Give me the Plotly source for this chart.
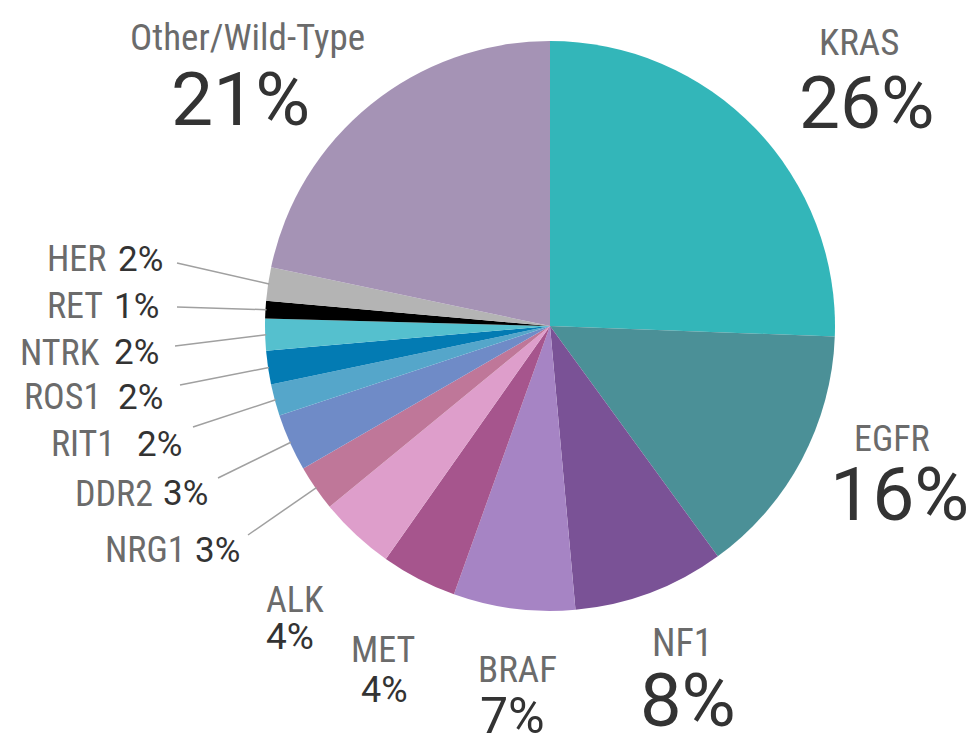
import math
import plotly.graph_objects as go

# ---- data (clockwise from 12 o'clock) ----
genes = ["KRAS", "EGFR", "NF1", "BRAF", "MET", "ALK", "NRG1", "DDR2",
         "RIT1", "ROS1", "NTRK", "RET", "HER", "Other/Wild-Type"]
shares = [25.6, 14.4, 8.6, 6.9, 4.3, 4.3, 2.6, 3.25, 1.8, 1.9, 1.8, 1.0, 1.9, 21.7]
pct_labels = ["26%", "16%", "8%", "7%", "4%", "4%", "3%", "3%",
              "2%", "2%", "2%", "1%", "2%", "21%"]
colors = ["#33B6B9", "#4B9097", "#7A5296", "#A684C4", "#A6558D", "#DE9ECB",
          "#BF7799", "#6F8BC7", "#55A6CA", "#037BB3", "#55C0CE", "#000000",
          "#B4B4B4", "#A593B5"]

W, H = 970, 737
CX, CY, R = 550, 326, 285

NAME_FONT = "Roboto Condensed, Liberation Sans Narrow, DejaVu Sans Condensed, Roboto, sans-serif"
NUM_FONT = "Roboto, sans-serif"
NAME_COL = "#6b6b6b"
NUM_COL = "#333333"

fig = go.Figure(go.Pie(
    labels=genes, values=shares, sort=False, direction="clockwise", rotation=0,
    marker=dict(colors=colors, line=dict(width=0)),
    textinfo="none", hoverinfo="label+percent", showlegend=False,
    domain=dict(x=[(CX - R) / W, (CX + R) / W], y=[(H - CY - R) / H, (H - CY + R) / H]),
))


def px(x):
    return x / W


def py(y):
    return 1 - y / H


annotations = []


def ann(text, x, y, size, color, family, xanchor="center"):
    annotations.append(dict(text=text, x=px(x), y=py(y), xref="paper", yref="paper",
                            xanchor=xanchor, yanchor="middle", showarrow=False,
                            font=dict(size=size, color=color, family=family)))


idx = {g: i for i, g in enumerate(genes)}

# big labels: (gene, name x, name y, name size, pct x, pct y, pct size, anchor)
big = [
    ("Other/Wild-Type", 248, 38, 37, 240, 99, 75, "center"),
    ("KRAS", 859, 43, 37, 867, 103, 73, "center"),
    ("EGFR", 892, 439, 36, 899, 494, 75, "center"),
    ("NF1", 682, 643, 38, 688, 700, 74, "center"),
    ("BRAF", 517, 669, 37, 512, 716, 50, "center"),
    ("MET", 383, 650, 36, 384, 690, 36, "center"),
    ("ALK", 264, 600, 36, 264, 636, 37, "left"),
]
for g, nx, ny, ns, qx, qy, qs, anc in big:
    ann(g, nx, ny, ns, NAME_COL, NAME_FONT, anc)
    ann(pct_labels[idx[g]], qx, qy, qs, NUM_COL, NUM_FONT, anc)

# small labels with leader lines: (gene, name right x, pct left x, y, line outer x, line outer y)
small = [
    ("HER", 108, 116, 259, 177, 263),
    ("RET", 105, 112, 306, 177, 307),
    ("NTRK", 102, 112, 353, 175, 346),
    ("ROS1", 103, 116, 397, 180, 385),
    ("RIT1", 117, 135, 444, 193, 427),
    ("DDR2", 155, 161, 494, 218, 478),
    ("NRG1", 187, 193, 550, 248, 535),
]

total = sum(shares)
cum = [0]
for v in shares:
    cum.append(cum[-1] + v)

shapes = []
for g, nr, pl, y, lx, ly in small:
    i = idx[g]
    ann(g, nr, y, 36, NAME_COL, NAME_FONT, "right")
    ann(pct_labels[i], pl, y, 35, NUM_COL, NUM_FONT, "left")
    theta = (cum[i] + shares[i] / 2) / total * 2 * math.pi
    ex = CX + (R - 1) * math.sin(theta)
    ey = CY - (R - 1) * math.cos(theta)
    shapes.append(dict(type="line", xref="paper", yref="paper",
                       x0=px(lx), y0=py(ly), x1=px(ex), y1=py(ey),
                       line=dict(color="#a0a0a0", width=1.5)))

fig.update_layout(
    width=W, height=H, margin=dict(l=0, r=0, t=0, b=0),
    paper_bgcolor="white", plot_bgcolor="white",
    annotations=annotations, shapes=shapes,
)

fig.write_html("out.html", config={"displayModeBar": False},
               post_script="document.body.style.margin='0';document.body.style.overflow='hidden';")
